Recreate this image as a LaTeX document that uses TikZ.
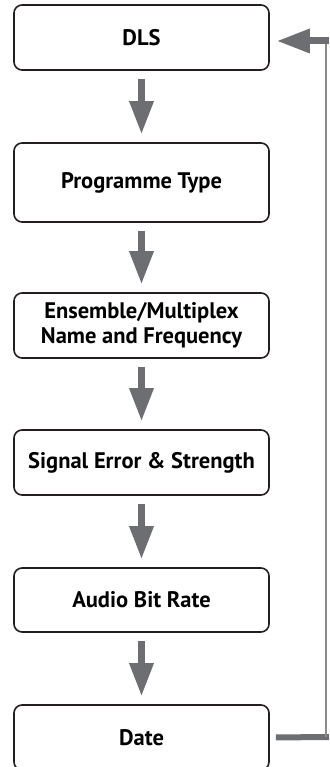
\documentclass[tikz,border=0pt]{standalone}
\usepackage{fontspec}
\setmainfont{PT Sans}
\usetikzlibrary{arrows.meta}

\definecolor{arrowgray}{HTML}{6D6E71}
\definecolor{boxline}{HTML}{231F20}

\tikzset{
  stepbox/.style={draw=boxline, line width=1.6pt, rounded corners=8pt,
    minimum width=255pt, minimum height=65pt, align=center,
    font=\fontsize{22.5}{25}\selectfont\bfseries, inner sep=0pt},
  flow/.style={draw=arrowgray, line width=7pt,
    -{Triangle[length=32pt,width=25pt,line width=0pt]},
    shorten <=8pt, shorten >=9pt},
  bar/.style={draw=arrowgray, line width=6pt},
  backline/.style={draw=arrowgray!80, line width=1.2pt}
}

\begin{document}
\begin{tikzpicture}[x=1pt,y=-1pt]
\useasboundingbox (0,0) rectangle (329,767);

\node[stepbox] (dls)   at (141.5,37.5)  {DLS};
\node[stepbox, minimum height=79pt] (ptype) at (141.5,182.5) {Programme Type};
\node[stepbox] (ens)   at (141.5,325.5) {Ensemble/Multiplex\\Name and Frequency};
\node[stepbox] (sig)   at (141.5,462.5) {Signal Error \& Strength};
\node[stepbox, minimum height=64pt] (rate)  at (141.5,600)   {Audio Bit Rate};
\node[stepbox] (date)  at (141.5,737.5) {Date};

\draw[flow] (dls) -- (ptype);
\draw[flow] (ptype) -- (ens);
\draw[flow] (ens) -- (sig);
\draw[flow] (sig) -- (rate);
\draw[flow] (rate) -- (date);

% loop back from Date to DLS
\coordinate (fbbot) at (329,737);
\coordinate (fbtop) at (329,41);
\coordinate (fbdown) at (326,737);
\coordinate (fbup) at (326,41);
\draw[bar, shorten <=6pt] (date.east) -- (fbbot);
\draw[backline] (fbdown) -- (fbup);
\draw[flow, shorten <=0pt, shorten >=8pt] (fbtop) -- (fbtop -| dls.east);
\end{tikzpicture}
\end{document}
